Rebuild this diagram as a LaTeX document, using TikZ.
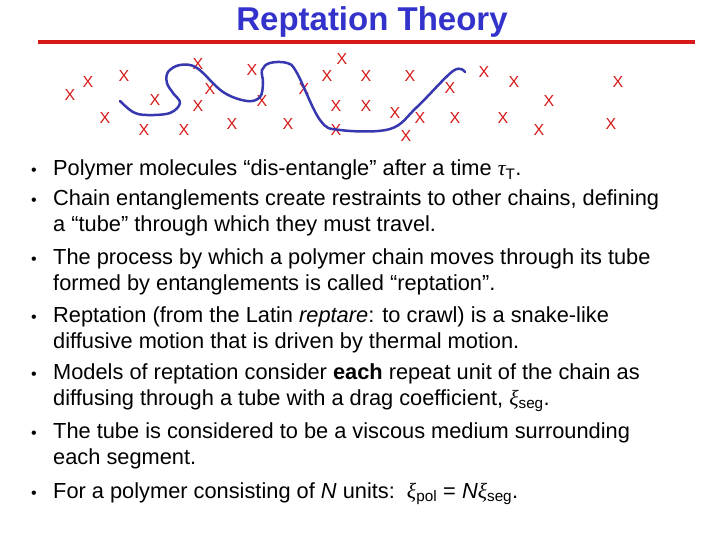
\documentclass[tikz,border=0pt]{standalone}
\usepackage{fontspec}
\setmainfont{Liberation Sans}
\newfontfamily\grk{Liberation Serif}
\definecolor{ttl}{RGB}{51,51,204}
\definecolor{rd}{RGB}{215,25,25}
\definecolor{cv}{RGB}{55,55,175}
\begin{document}
\begin{tikzpicture}[x=1pt,y=-1pt,
  xm/.style={text=rd,font=\fontsize{16}{16}\selectfont,inner sep=0pt},
  ln/.style={anchor=base west,inner sep=0pt,font=\fontsize{21.8}{22}\selectfont},
  bl/.style={anchor=base,inner sep=0pt,font=\fontsize{16}{16}\selectfont}]
\useasboundingbox (0,0) rectangle (720,540);
\node[text=ttl,font=\bfseries\fontsize{33}{33}\selectfont,inner sep=0pt] (title) at (372,22) {Reptation Theory};
\draw[rd,line width=4pt] (38,42) coordinate (l1) -- (695,42) coordinate (l2);
\foreach \p [count=\i] in {(70,95),(88,82),(124,76),(105,118),(155,100),(144,130),(198,64),(210,89),(198,106),(184,130),(232,124),(252,70),(262,101),(288,124),(304,89),(327,76),(342,59),(366,76),(336,106),(366,106),(336,130),(410,76),(395,113),(420,118),(406,136),(450,88),(455,118),(484,72),(514,82),(503,118),(549,101),(539,130),(618,82),(611,124)}
  \node[xm] (x\i) at \p {X};
\draw[cv,line width=2.5pt,line cap=round,line join=round] plot[smooth,tension=0.6] coordinates {(120,101)(133,112)(147,115)(170,113)(180,103)(173,93)(167,83)(168,72)(180,65)(197,68)(223,92)(247,101)(260,97)(263,83)(262,70)(270,63)(287,63)(297,73)(320,120)(340,130)(390,129)(417,107)(453,71)(465,72)};
\foreach \y/\t [count=\i] in {
 176/{Polymer molecules “dis-entangle” after a time {\grk\itshape τ}\textsubscript{T}.},
 206/{Chain entanglements create restraints to other chains, defining},
 232/{a “tube” through which they must travel.},
 264/{The process by which a polymer chain moves through its tube},
 290/{formed by entanglements is called “reptation”.},
 322/{Reptation (from the Latin \textit{reptare}: to crawl) is a snake-like},
 348/{diffusive motion that is driven by thermal motion.},
 379/{Models of reptation consider \textbf{each} repeat unit of the chain as},
 405/{diffusing through a tube with a drag coefficient, {\grk\itshape ξ}\textsubscript{seg}.},
 438/{The tube is considered to be a viscous medium surrounding},
 464/{each segment.},
 498/{For a polymer consisting of \textit{N} units:\ \ {\grk\itshape ξ}\textsubscript{pol} = \textit{N}{\grk\itshape ξ}\textsubscript{seg}.}}
  \node[ln] (t\i) at (53,\y) {\t};
\foreach \y [count=\i] in {176,206,264,322,379,438,498}
  \node[bl] (b\i) at (34,\y) {•};
\end{tikzpicture}
\end{document}
